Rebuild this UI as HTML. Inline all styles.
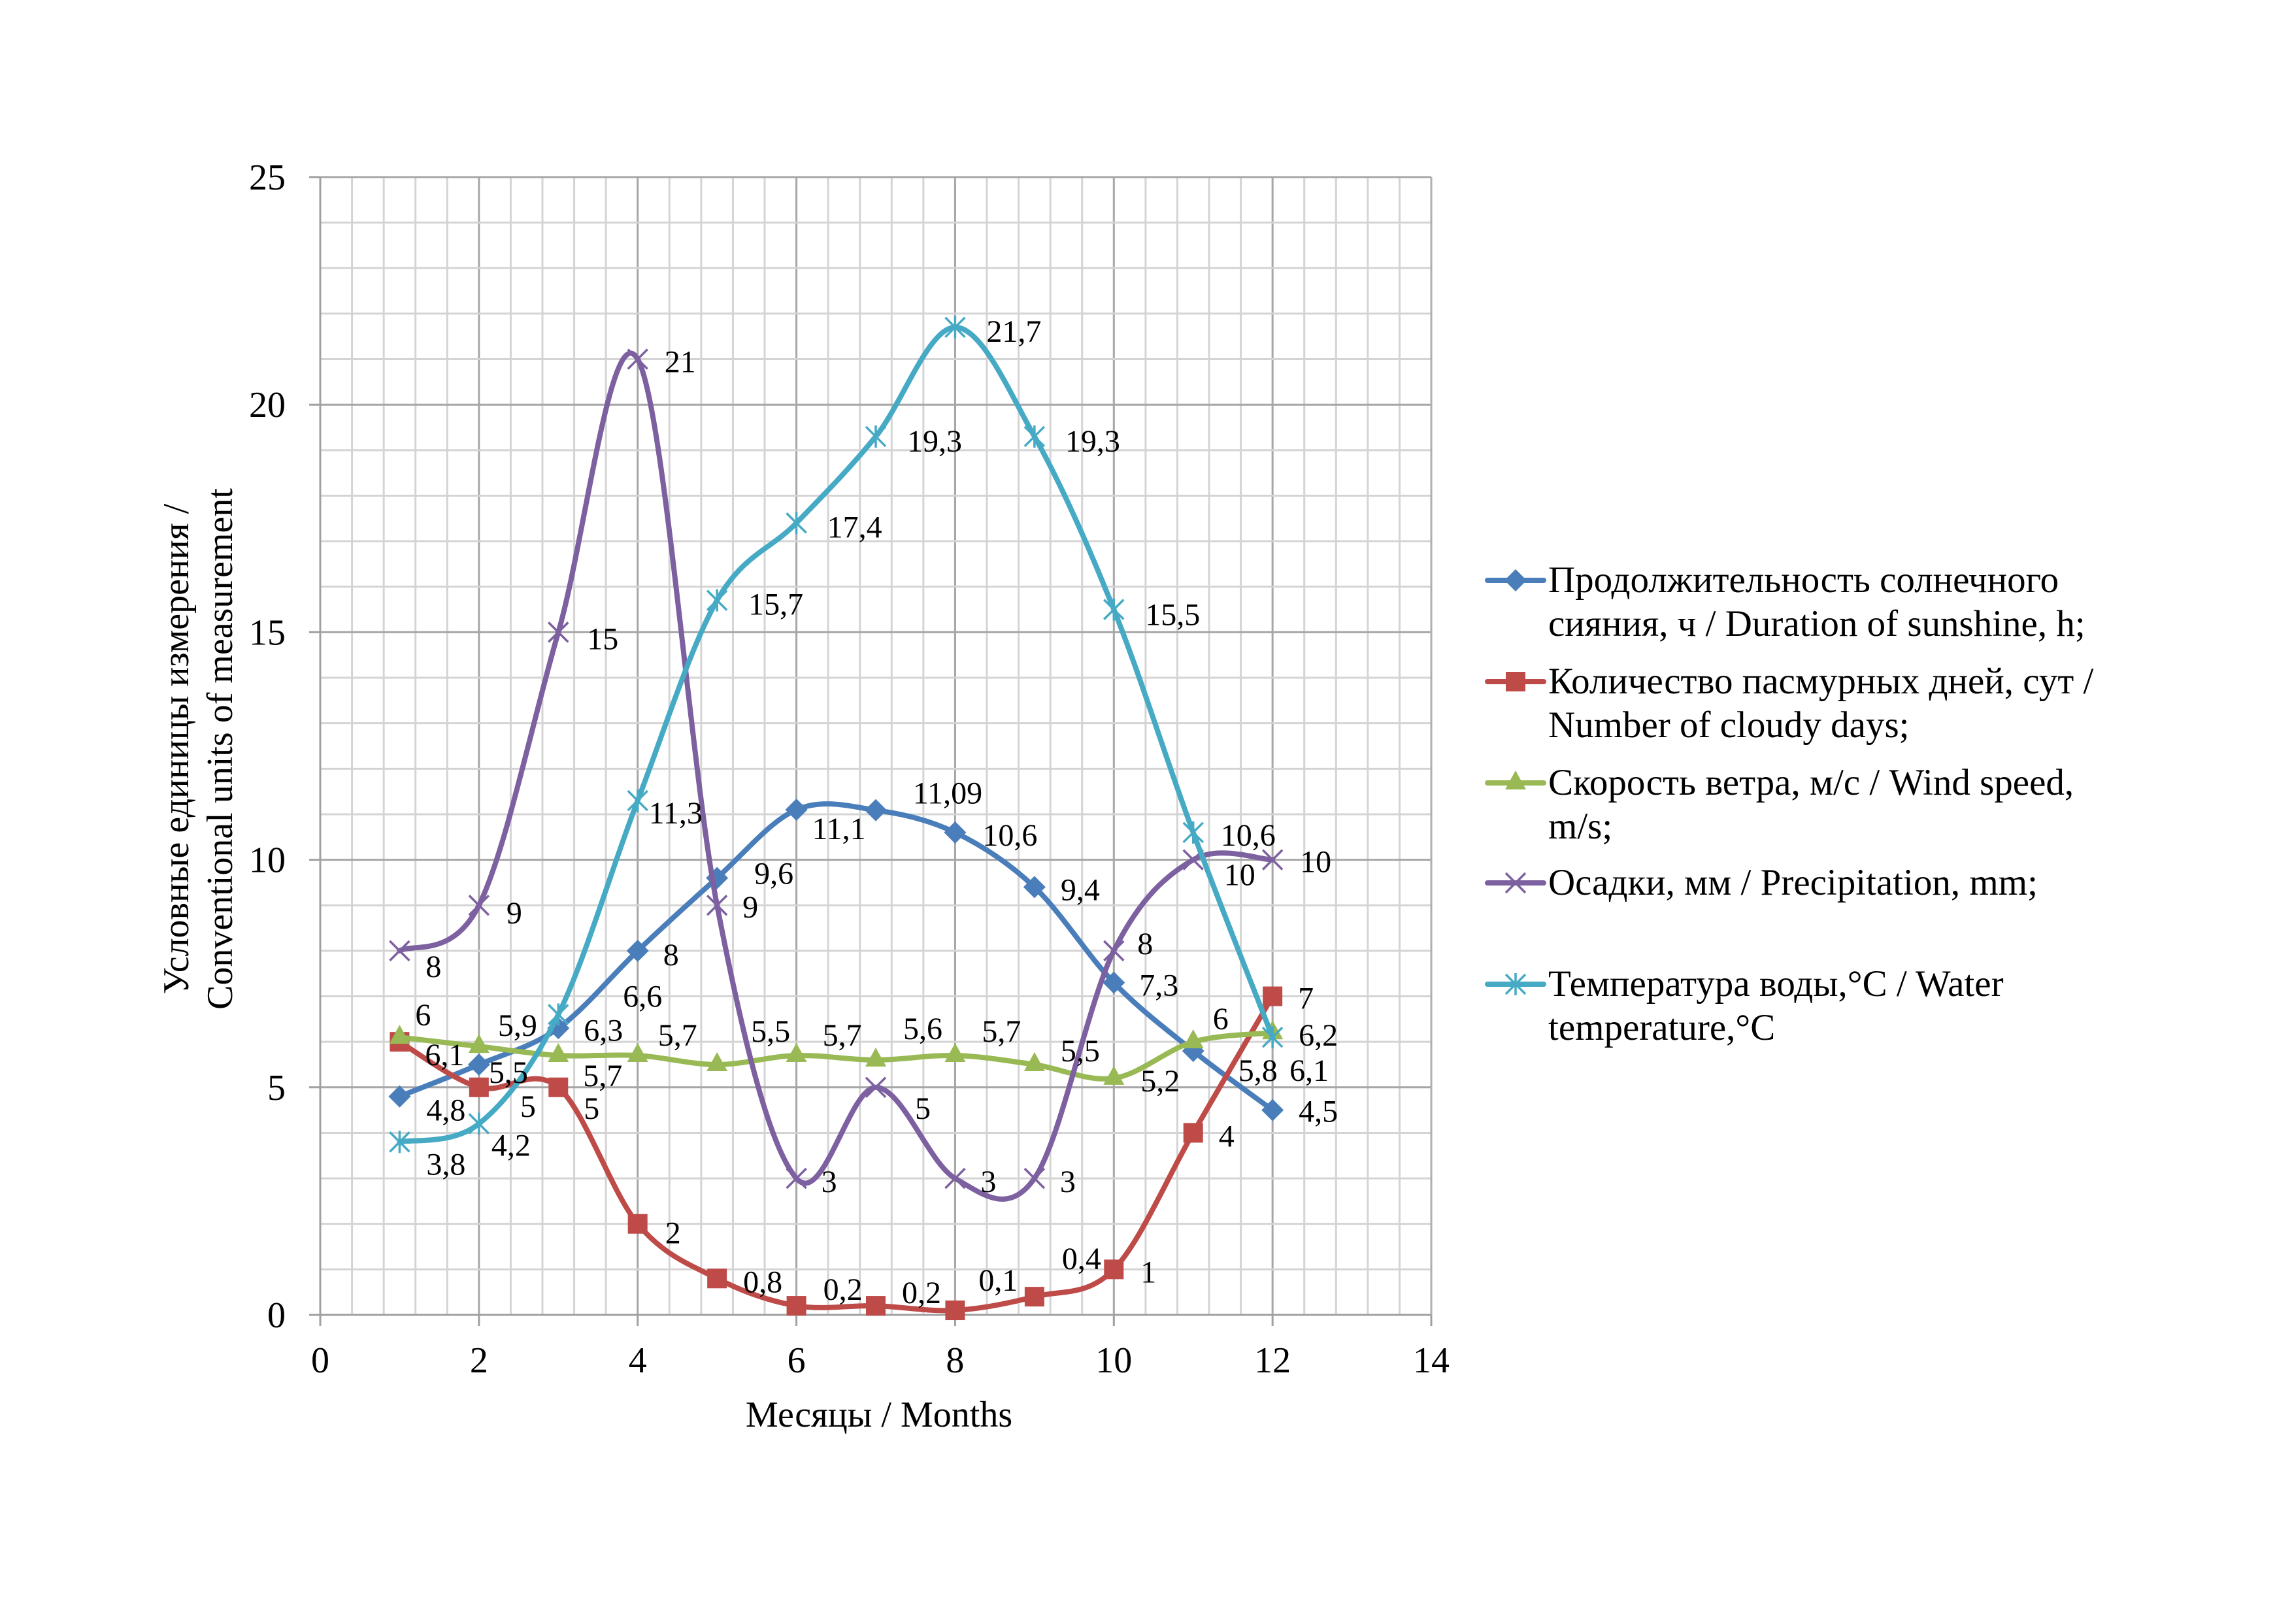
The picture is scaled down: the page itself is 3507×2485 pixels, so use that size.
<!DOCTYPE html>
<html><head><meta charset="utf-8"><style>
html,body{margin:0;padding:0;background:#fff}
svg text{font-family:"Liberation Serif",serif;fill:#000}
</style></head><body>
<svg id="chart" width="3507" height="2480" viewBox="0 0 3507 2480" xmlns="http://www.w3.org/2000/svg">
<rect width="3507" height="2480" fill="#fff"/>
<g id="grid"></g>
<g id="axes"></g>
<g id="series"></g>
<g id="labels"></g>
<g transform="translate(0,1146) rotate(-90)">
<text x="0" y="288" font-size="56" text-anchor="middle">Условные единицы измерения /</text>
<text x="0" y="355" font-size="56" text-anchor="middle">Conventional units of measurement</text>
</g>
<text x="1345" y="2183" font-size="56" text-anchor="middle">Месяцы / Months</text>
<g id="legend"></g>
</svg>
<script>
const months = [1,2,3,4,5,6,7,8,9,10,11,12];
const sunshine = [4.8,5.5,6.3,8,9.6,11.1,11.09,10.6,9.4,7.3,5.8,4.5];
const cloudy = [6,5,5,2,0.8,0.2,0.2,0.1,0.4,1,4,7];
const wind = [6.1,5.9,5.7,5.7,5.5,5.7,5.6,5.7,5.5,5.2,6,6.2];
const precip = [8,9,15,21,9,3,5,3,3,8,10,10];
const waterTemp = [3.8,4.2,6.6,11.3,15.7,17.4,19.3,21.7,19.3,15.5,10.6,6.1];
const xTicks = [0,2,4,6,8,10,12,14];
const yTicks = [0,5,10,15,20,25];
const legendLabels = [
 ["Продолжительность солнечного","сияния, ч / Duration of sunshine, h;"],
 ["Количество пасмурных дней, сут /","Number of cloudy days;"],
 ["Скорость ветра, м/с / Wind speed,","m/s;"],
 ["Осадки, мм / Precipitation, mm;"],
 ["Температура воды,°C / Water","temperature,°C"]
];

const NS="http://www.w3.org/2000/svg";
const L=490,R=2190,T=271,B=2012,XMAX=14,YMAX=25;
function X(v){return L+(R-L)*v/XMAX;}
function Y(v){return B-(B-T)*v/YMAX;}
function mk(tag,attrs,parent){const e=document.createElementNS(NS,tag);for(const k in attrs)e.setAttribute(k,attrs[k]);parent.appendChild(e);return e;}
const fmt=v=>String(v).replace('.',',');

const grid=document.getElementById('grid');
for(let v=0.4;v<XMAX-0.01;v+=0.4){
  const major=Math.abs(v/2-Math.round(v/2))<0.01;
  const ln=mk('line',{x1:X(v),x2:X(v),y1:T,y2:B,stroke:major?'#a6a6a6':'#d4d4d4','stroke-width':3},grid);
  
  
}
for(let v=1;v<=YMAX;v++){
  const major=v%5===0;
  const ln=mk('line',{x1:L,x2:R,y1:Y(v),y2:Y(v),stroke:major?'#a6a6a6':'#d4d4d4','stroke-width':3},grid);
  
  
}
const axes=document.getElementById('axes');
mk('line',{x1:L,x2:L,y1:T,y2:B+17,stroke:'#a0a0a0','stroke-width':3},axes);
mk('line',{x1:R,x2:R,y1:T,y2:B+17,stroke:'#b0b0b0','stroke-width':3},axes);
mk('line',{x1:L-17,x2:R,y1:B,y2:B,stroke:'#a0a0a0','stroke-width':3},axes);
for(const t of yTicks){
  mk('line',{x1:L-17,x2:L,y1:Y(t),y2:Y(t),stroke:'#a0a0a0','stroke-width':3},axes);
  const tx=mk('text',{x:437,y:Y(t)+19,'font-size':56,'text-anchor':'end'},axes);
  tx.textContent=t;
  
  
}
for(const t of xTicks){
  mk('line',{x1:X(t),x2:X(t),y1:B,y2:B+17,stroke:'#a0a0a0','stroke-width':3},axes);
  const tx=mk('text',{x:X(t),y:2100,'font-size':56,'text-anchor':'middle'},axes);
  tx.textContent=t;
  
  
}

function smooth(pts){
  let d=`M${pts[0][0]},${pts[0][1]}`;
  for(let i=0;i<pts.length-1;i++){
    const p0=pts[Math.max(0,i-1)],p1=pts[i],p2=pts[i+1],p3=pts[Math.min(pts.length-1,i+2)];
    const c1=[p1[0]+(p2[0]-p0[0])/6,p1[1]+(p2[1]-p0[1])/6];
    const c2=[p2[0]-(p3[0]-p1[0])/6,p2[1]-(p3[1]-p1[1])/6];
    d+=` C${c1[0]},${c1[1]} ${c2[0]},${c2[1]} ${p2[0]},${p2[1]}`;
  }
  return d;
}
function marker(type,x,y,color,parent){
  let e;
  if(type==='diamond') e=mk('polygon',{points:`${x},${y-17} ${x+17},${y} ${x},${y+17} ${x-17},${y}`,fill:color},parent);
  else if(type==='square') e=mk('rect',{x:x-15,y:y-15,width:30,height:30,fill:color},parent);
  else if(type==='triangle') e=mk('polygon',{points:`${x},${y-19} ${x+16},${y+10} ${x-16},${y+10}`,fill:color},parent);
  else if(type==='x') e=mk('path',{d:`M${x-15},${y-15}L${x+15},${y+15}M${x-15},${y+15}L${x+15},${y-15}`,stroke:color,'stroke-width':3.5,fill:'none'},parent);
  else e=mk('path',{d:`M${x-15},${y-15}L${x+15},${y+15}M${x-15},${y+15}L${x+15},${y-15}M${x},${y-17}L${x},${y+17}`,stroke:color,'stroke-width':3.5,fill:'none'},parent);
  return e;
}
const seriesDefs=[
 {name:'sunshine',data:sunshine,color:'#4a7ebb',mk:'diamond',
  off:[[71,20],[45,11],[69,2],[51,5],[87,-8],[65,28],[110,-27],[84,3],[70,3],[69,3],[99,29],[70,1]]},
 {name:'cloudy-days',data:cloudy,color:'#be4b48',mk:'square',
  off:[[36,-42],[75,28],[51,31],[54,13],[70,4],[71,-26],[70,-21],[66,-47],[72,-59],[53,3],[51,4],[51,2]]},
 {name:'wind-speed',data:wind,color:'#98b954',mk:'triangle',
  off:[[69,26],[59,-33],[68,30],[61,-32],[82,-52],[70,-32],[72,-49],[71,-38],[70,-22],[71,3],[42,-36],[70,3]]},
 {name:'precipitation',data:precip,color:'#7d60a0',mk:'x',
  off:[[52,23],[54,11],[68,9],[65,3],[51,2],[50,4],[72,31],[51,4],[51,4],[48,-12],[71,22],[66,2]]},
 {name:'water-temperature',data:waterTemp,color:'#46aac5',mk:'star',
  off:[[71,33],[49,32],[129,-29],[58,18],[90,5],[89,5],[90,6],[90,5],[89,6],[90,7],[84,3],[56,50]]}
];
const sg=document.getElementById('series'),lg=document.getElementById('labels');
for(const s of seriesDefs){
  const g=mk('g',{},sg);
  
  
  const pts=months.map((m,i)=>[X(m),Y(s.data[i])]);
  const p=mk('path',{d:smooth(pts),fill:'none',stroke:s.color,'stroke-width':8,'stroke-linecap':'round'},g);
  
  
  pts.forEach((pt,i)=>{
    const e=marker(s.mk,pt[0],pt[1],s.color,g);
    
    
    const t=mk('text',{x:pt[0]+s.off[i][0],y:pt[1]+s.off[i][1]+17,'font-size':48,'text-anchor':'middle'},lg);
    t.textContent=fmt(s.data[i]);
    
    
  });
}
const leg=document.getElementById('legend');
const legY=[888,1043,1198,1351,1506];
seriesDefs.forEach((s,i)=>{
  const g=mk('g',{},leg);
  
  
  const y=legY[i];
  mk('line',{x1:2276,x2:2362,y1:y,y2:y,stroke:s.color,'stroke-width':8,'stroke-linecap':'round'},g);
  marker(s.mk,2319,y,s.color,g);
  legendLabels[i].forEach((line,j)=>{
    const t=mk('text',{x:2369,y:y+18+j*67,'font-size':57},g);
    t.textContent=line;
  });
});
</script>
</body></html>
